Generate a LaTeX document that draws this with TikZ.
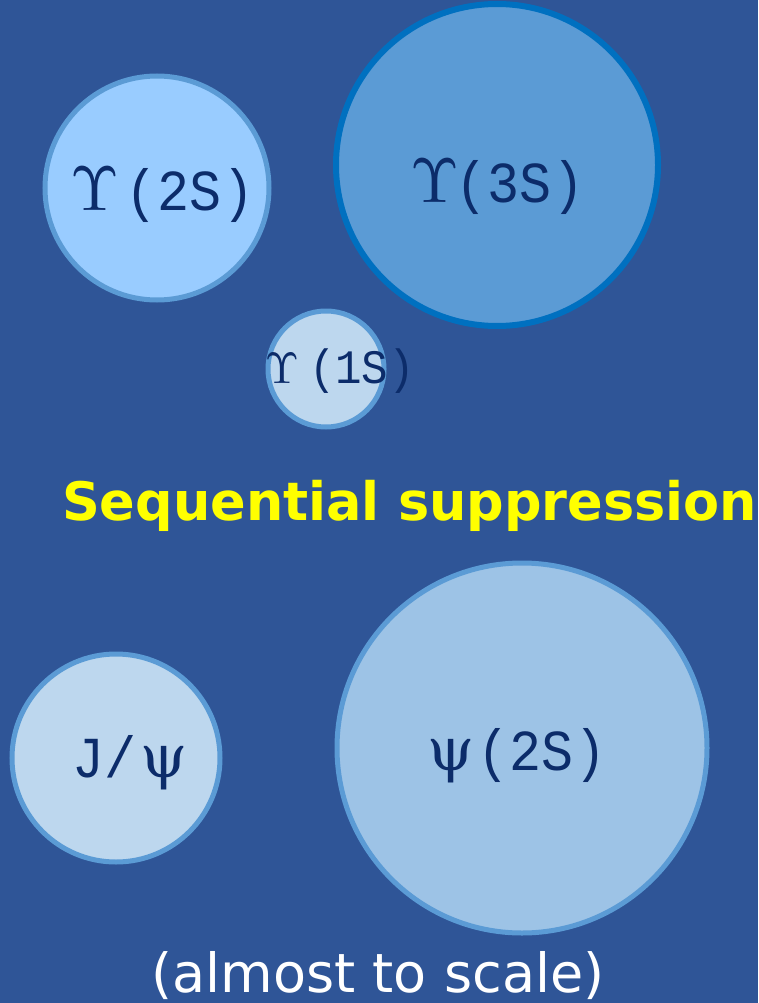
\documentclass[tikz,border=0pt]{standalone}
\usepackage{fontspec}
\setmainfont{DejaVu Sans}
\newfontfamily\monofont{Liberation Mono}
\newfontfamily\psifont{DejaVu Serif}
\newfontfamily\headfont{DejaVu Sans}
\definecolor{bg}{HTML}{2F5597}
\definecolor{edge}{HTML}{5B9BD5}
\definecolor{edgedark}{HTML}{0070C0}
\definecolor{fillA}{HTML}{99CCFF}
\definecolor{fillB}{HTML}{5B9BD5}
\definecolor{fillC}{HTML}{BDD7EE}
\definecolor{fillD}{HTML}{9DC3E6}
\definecolor{ink}{HTML}{0C2C6A}
\definecolor{headyellow}{HTML}{FFFF00}
\tikzset{
  meson/.style={circle, inner sep=0pt, draw=edge, line width=5pt},
  lab/.style={text=ink, inner sep=0pt, anchor=base},
}
\newcommand{\Ups}[1]{\scalebox{#1}{$\Upsilon$}}
\newcommand{\mon}[2]{\scalebox{0.92}[1]{\monofont\fontsize{#1}{#1}\selectfont #2}}
\newcommand{\psig}[1]{{\psifont\fontsize{#1}{#1}\selectfont ψ}}
\begin{document}
\begin{tikzpicture}[x=1pt,y=-1pt]
\fill[bg] (0,0) rectangle (758,1003);
\useasboundingbox (0,0) rectangle (758,1003);
% circles
\node[meson, fill=fillA, minimum size=224pt] (c2s) at (157,188) {};
\node[meson, fill=fillB, draw=edgedark, line width=6pt, minimum size=322pt] (c3s) at (497,165) {};
\node[meson, fill=fillC, minimum size=116pt] (c1s) at (326,369) {};
\node[meson, fill=fillC, minimum size=208pt] (cjpsi) at (116,758) {};
\node[meson, fill=fillD, minimum size=370pt] (cpsi2s) at (522,748) {};
% labels
\node[lab] (u2s) at (95,211) {\Ups{6.3}};
\node[lab] (m2s) at (190,211) {\mon{58}{(2S)}};
\node[lab] (u3s) at (435,202) {\Ups{6.3}};
\node[lab] (m3s) at (520,202) {\mon{58}{(3S)}};
\node[lab] (u1s) at (282,383) {\Ups{4.4}};
\node[lab] (m1s) at (362,383) {\mon{48}{(1S)}};
\node[lab] (mj) at (105,777) {\mon{58}{J/}};
\node[lab] (pj) at (164,777) {\psig{60}};
\node[lab] (p2s) at (451,770) {\psig{60}};
\node[lab] (m2s2) at (542,770) {\mon{58}{(2S)}};
% captions
\node[anchor=base west, inner sep=0pt, text=headyellow, font=\headfont\bfseries\fontsize{53}{53}\selectfont] (title) at (62,520) {\scalebox{0.99}[1]{Sequential suppression}};
\node[anchor=base, inner sep=0pt, text=white, font=\fontsize{54}{54}\selectfont] (note) at (378,992) {(almost to scale)};
\end{tikzpicture}
\end{document}
